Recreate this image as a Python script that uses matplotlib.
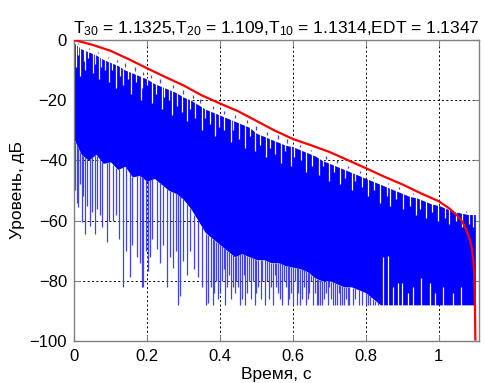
import matplotlib
matplotlib.use("Agg")
import matplotlib.pyplot as plt
import numpy as np

plt.rcParams['font.family'] = ['Liberation Sans', 'DejaVu Sans']
plt.rcParams['mathtext.fontset'] = 'custom'
plt.rcParams['mathtext.rm'] = 'Liberation Sans'
plt.rcParams['mathtext.default'] = 'regular'

# ---- data ----
title_text = "T$_{30}$ = 1.1325,T$_{20}$ = 1.109,T$_{10}$ = 1.1314,EDT = 1.1347"
x_label = "Время, с"
y_label = "Уровень, дБ"
x_ticks = [0, 0.2, 0.4, 0.6, 0.8, 1.0]
x_tick_labels = ["0", "0.2", "0.4", "0.6", "0.8", "1"]
y_ticks = [0, -20, -40, -60, -80, -100]

# Schroeder decay curve (red)
t_red = [0, 0.05, 0.1, 0.15, 0.2, 0.25, 0.3, 0.35, 0.4, 0.45, 0.5, 0.55, 0.6,
         0.65, 0.7, 0.75, 0.8, 0.85, 0.9, 0.95, 1.0, 1.03, 1.05, 1.065, 1.076,
         1.085, 1.09, 1.094, 1.097, 1.099, 1.1]
db_red = [0, -1.6, -3.6, -6.4, -9.4, -12.3, -15.1, -18.4, -21.1, -23.7, -26.9,
          -30.1, -32.9, -35.0, -37.2, -39.9, -42.6, -45.4, -48.0, -50.9, -53.6,
          -56.1, -58.3, -60.5, -63.3, -66.5, -68.9, -72.5, -78.0, -88.0, -99.5]

# impulse response level (blue): dense band between lower and upper edges
t_blue = [0.00, 0.02, 0.04, 0.06, 0.08, 0.10, 0.12, 0.14, 0.16, 0.18,
          0.20, 0.22, 0.24, 0.26, 0.28, 0.30, 0.32, 0.34, 0.36, 0.38,
          0.40, 0.42, 0.44, 0.46, 0.48, 0.50, 0.52, 0.54, 0.56, 0.58,
          0.60, 0.62, 0.64, 0.66, 0.68, 0.70, 0.72, 0.74, 0.76, 0.78,
          0.80, 0.82, 0.84, 0.86, 0.88, 0.90, 0.92, 0.94, 0.96, 0.98,
          1.00, 1.02, 1.04, 1.06, 1.08, 1.10]
db_blue_upper = [-1, -3, -4, -5, -6.5, -7.5, -8.5, -10, -11, -12,
                 -13, -14.5, -15.5, -16.5, -17.5, -19, -20, -21.5, -23, -24,
                 -25, -26, -27, -28, -29, -31, -32, -33, -34, -35,
                 -35.5, -36.5, -37.5, -38.5, -40, -41, -42, -43, -44, -45,
                 -46, -47, -48, -49, -50, -51, -52, -52.5, -53.5, -54.5,
                 -55, -56, -57, -57.5, -58, -58]
db_blue_lower = [-33, -38, -40, -38, -41, -40.5, -43, -42, -45.5, -45,
                 -47, -46, -48, -50, -51, -53, -56, -60, -64, -66,
                 -68, -70, -72, -71, -72, -73, -73, -74, -74, -75,
                 -75.5, -76, -77, -79, -80, -80, -81, -82, -82, -83,
                 -84, -86, -88, -88, -88, -88, -88, -88, -88, -88,
                 -88, -88, -88, -88, -88, -88]

# single upward excursions above the band top
t_peaks = [0.002, 0.01, 0.024, 0.042, 0.066, 0.092, 0.118, 0.14, 0.166, 0.19,
           0.21, 0.236, 0.27, 0.3, 0.326, 0.345, 0.38, 0.41, 0.44, 0.475,
           0.5, 0.53, 0.56, 0.585, 0.62, 0.65, 0.69, 0.72, 0.75, 0.785,
           0.82, 0.86, 0.89, 0.93, 0.96, 1.0, 1.04, 1.075]
db_peaks = [0, -1.5, -2.5, -2.8, -4, -5.5, -6.5, -7.5, -9, -10.5,
            -11.5, -13, -14.8, -16.5, -18.2, -19.5, -22, -23.5, -25, -26.5,
            -28.5, -30.5, -31.5, -33, -35, -36.5, -38.5, -40, -42, -43.5,
            -45.5, -47.5, -49, -51, -52.5, -54, -56, -57]

# places below the band top that the signal does not reach
t_notches = [0.005, 0.011, 0.016, 0.027, 0.031, 0.039, 0.052, 0.057, 0.069, 0.075,
             0.086, 0.097, 0.104, 0.116, 0.127, 0.133, 0.149, 0.155, 0.171, 0.183,
             0.187, 0.201, 0.214, 0.226, 0.241, 0.247, 0.259, 0.268, 0.283, 0.296,
             0.309, 0.318, 0.331, 0.352, 0.358, 0.373, 0.387, 0.398, 0.412, 0.431,
             0.437, 0.452, 0.468, 0.483, 0.497, 0.511, 0.527, 0.538, 0.552, 0.567,
             0.578, 0.596, 0.604, 0.622, 0.637, 0.652, 0.671, 0.683, 0.698, 0.712,
             0.729, 0.742, 0.763, 0.771, 0.788, 0.806, 0.823, 0.838, 0.857, 0.866,
             0.883, 0.902, 0.921, 0.938, 0.947, 0.966, 0.981, 0.998, 1.018, 1.027,
             1.046, 1.063, 1.082, 1.094]
db_notches = [-9, -5, -12, -7, -10, -6, -11, -8, -13, -9,
              -10, -14, -10, -16, -12, -15, -13, -18, -14, -20,
              -16, -15, -21, -18, -23, -19, -20, -25, -22, -24,
              -27, -23, -26, -30, -26, -28, -32, -29, -30, -34,
              -30, -33, -36, -32, -37, -35, -39, -36, -38, -41,
              -37, -42, -39, -40, -44, -42, -45, -42, -47, -44,
              -48, -46, -50, -47, -49, -52, -50, -54, -52, -55,
              -53, -56, -55, -58, -56, -59, -57, -60, -59, -61,
              -60, -62, -61, -62]

# single downward excursions below the dense band
t_dips = [0.003, 0.008, 0.012, 0.017, 0.021, 0.026, 0.03, 0.036, 0.044, 0.05,
          0.058, 0.064, 0.071, 0.078, 0.09, 0.096, 0.108, 0.115, 0.122, 0.135,
          0.142, 0.153, 0.16, 0.172, 0.18, 0.185, 0.188, 0.196, 0.204, 0.208,
          0.215, 0.227, 0.235, 0.245, 0.254, 0.262, 0.272, 0.28, 0.286, 0.29,
          0.3, 0.31, 0.318, 0.33, 0.341, 0.35, 0.363, 0.368, 0.375, 0.382,
          0.385, 0.39, 0.395, 0.40, 0.405, 0.41, 0.415, 0.42, 0.425, 0.43,
          0.436, 0.44, 0.445, 0.45, 0.455, 0.46, 0.465, 0.47, 0.475, 0.48,
          0.485, 0.49, 0.495, 0.5, 0.505, 0.512, 0.515, 0.523, 0.53, 0.535,
          0.54, 0.545, 0.55, 0.555, 0.56, 0.565, 0.569, 0.575, 0.58, 0.587,
          0.59, 0.595, 0.6, 0.605, 0.61, 0.615, 0.62, 0.625, 0.63, 0.635,
          0.64, 0.645, 0.65, 0.655, 0.66, 0.665, 0.67, 0.675, 0.68, 0.685,
          0.69, 0.695, 0.70, 0.705, 0.71, 0.715, 0.72, 0.725, 0.73, 0.735,
          0.74, 0.745, 0.75, 0.755, 0.765, 0.77, 0.78, 0.79, 0.80, 0.805,
          0.812, 0.82, 0.826, 0.832]
db_dips = [-50, -54, -55.6, -48, -60.6, -52, -64.4, -55, -61.7, -57,
           -64.4, -56, -58.3, -62, -67.2, -60, -60, -58, -66, -82.2,
           -70, -78.9, -68, -72.2, -74, -82.2, -82, -70, -76.7, -72.2,
           -66, -69.4, -74, -68, -82.2, -72, -75.6, -70, -88, -85,
           -73.3, -78, -70, -76, -78.9, -82, -88, -87.5, -82, -88,
           -84, -80, -86, -84, -80, -76, -88, -82, -78, -86,
           -82, -84, -80, -82, -88, -86, -78, -88, -84, -80,
           -86, -80, -88, -84, -82, -86, -80, -88, -80, -86,
           -82, -88, -78, -82, -84, -86, -88, -80, -82, -88,
           -86, -84, -88, -80, -88, -84, -88, -86, -82, -88,
           -86, -84, -80, -88, -84, -88, -88, -88, -88, -86,
           -84, -88, -82, -86, -88, -88, -88, -84, -88, -88,
           -88, -86, -88, -88, -88, -86, -88, -88, -88, -88,
           -88, -88, -88, -88]

# places near the floor where the band does not reach down
t_gaps = [0.847, 0.861, 0.875, 0.888, 0.90, 0.915, 0.93, 0.952, 0.975, 0.99,
          1.01, 1.04, 1.06]
db_gaps = [-72, -71.7, -82, -80.7, -80.7, -84, -82, -79, -80.7, -84,
           -82, -84, -82]

floor_db = -88

# ---- figure ----
fig = plt.figure(figsize=(4.85, 3.83), dpi=100)
ax = fig.add_axes([0.1526, 0.1097, 0.835, 0.786])

blue = '#0000ff'
light_blue = '#4040ff'
ax.fill_between(t_blue, db_blue_lower, db_blue_upper,
                color=blue, linewidth=0, zorder=2)
top_at_peaks = np.interp(t_peaks, t_blue, db_blue_upper)
ax.vlines(t_peaks, top_at_peaks + 1, db_peaks, color=light_blue,
          linewidth=0.9, zorder=2)
top_at_notches = np.interp(t_notches, t_blue, db_blue_upper)
ax.vlines(t_notches, top_at_notches + 0.5, db_notches, color='white',
          linewidth=0.9, zorder=3)
low_at_dips = np.interp(t_dips, t_blue, db_blue_lower)
ax.vlines(t_dips, low_at_dips, db_dips, color=light_blue,
          linewidth=0.9, zorder=2)
ax.vlines(t_gaps, floor_db - 0.5, db_gaps, color='white', linewidth=0.9, zorder=3)
ax.plot(t_red, db_red, color='#ff0000', linewidth=1.6, zorder=4)

ax.set_xlim(0, 1.11)
ax.set_ylim(-100, 0)
ax.set_xticks(x_ticks)
ax.set_xticklabels(x_tick_labels)
ax.set_yticks(y_ticks)

ax.set_axisbelow(True)
ax.grid(True, color='black', linestyle=(0, (2, 2.5)), linewidth=0.7)
for s in ax.spines.values():
    s.set_color('#808080')
    s.set_linewidth(1.0)
ax.tick_params(direction='in', length=4, width=0.8, color='#808080',
               labelsize=12, pad=5, top=True, right=True)
ax.tick_params(axis='x', pad=6)

ax.set_xlabel(x_label, fontsize=12.5, labelpad=2)
ax.set_ylabel(y_label, fontsize=12.5, labelpad=3)
ax.set_title(title_text, fontsize=12.5, pad=5)

fig.savefig('out.png', dpi=100)
